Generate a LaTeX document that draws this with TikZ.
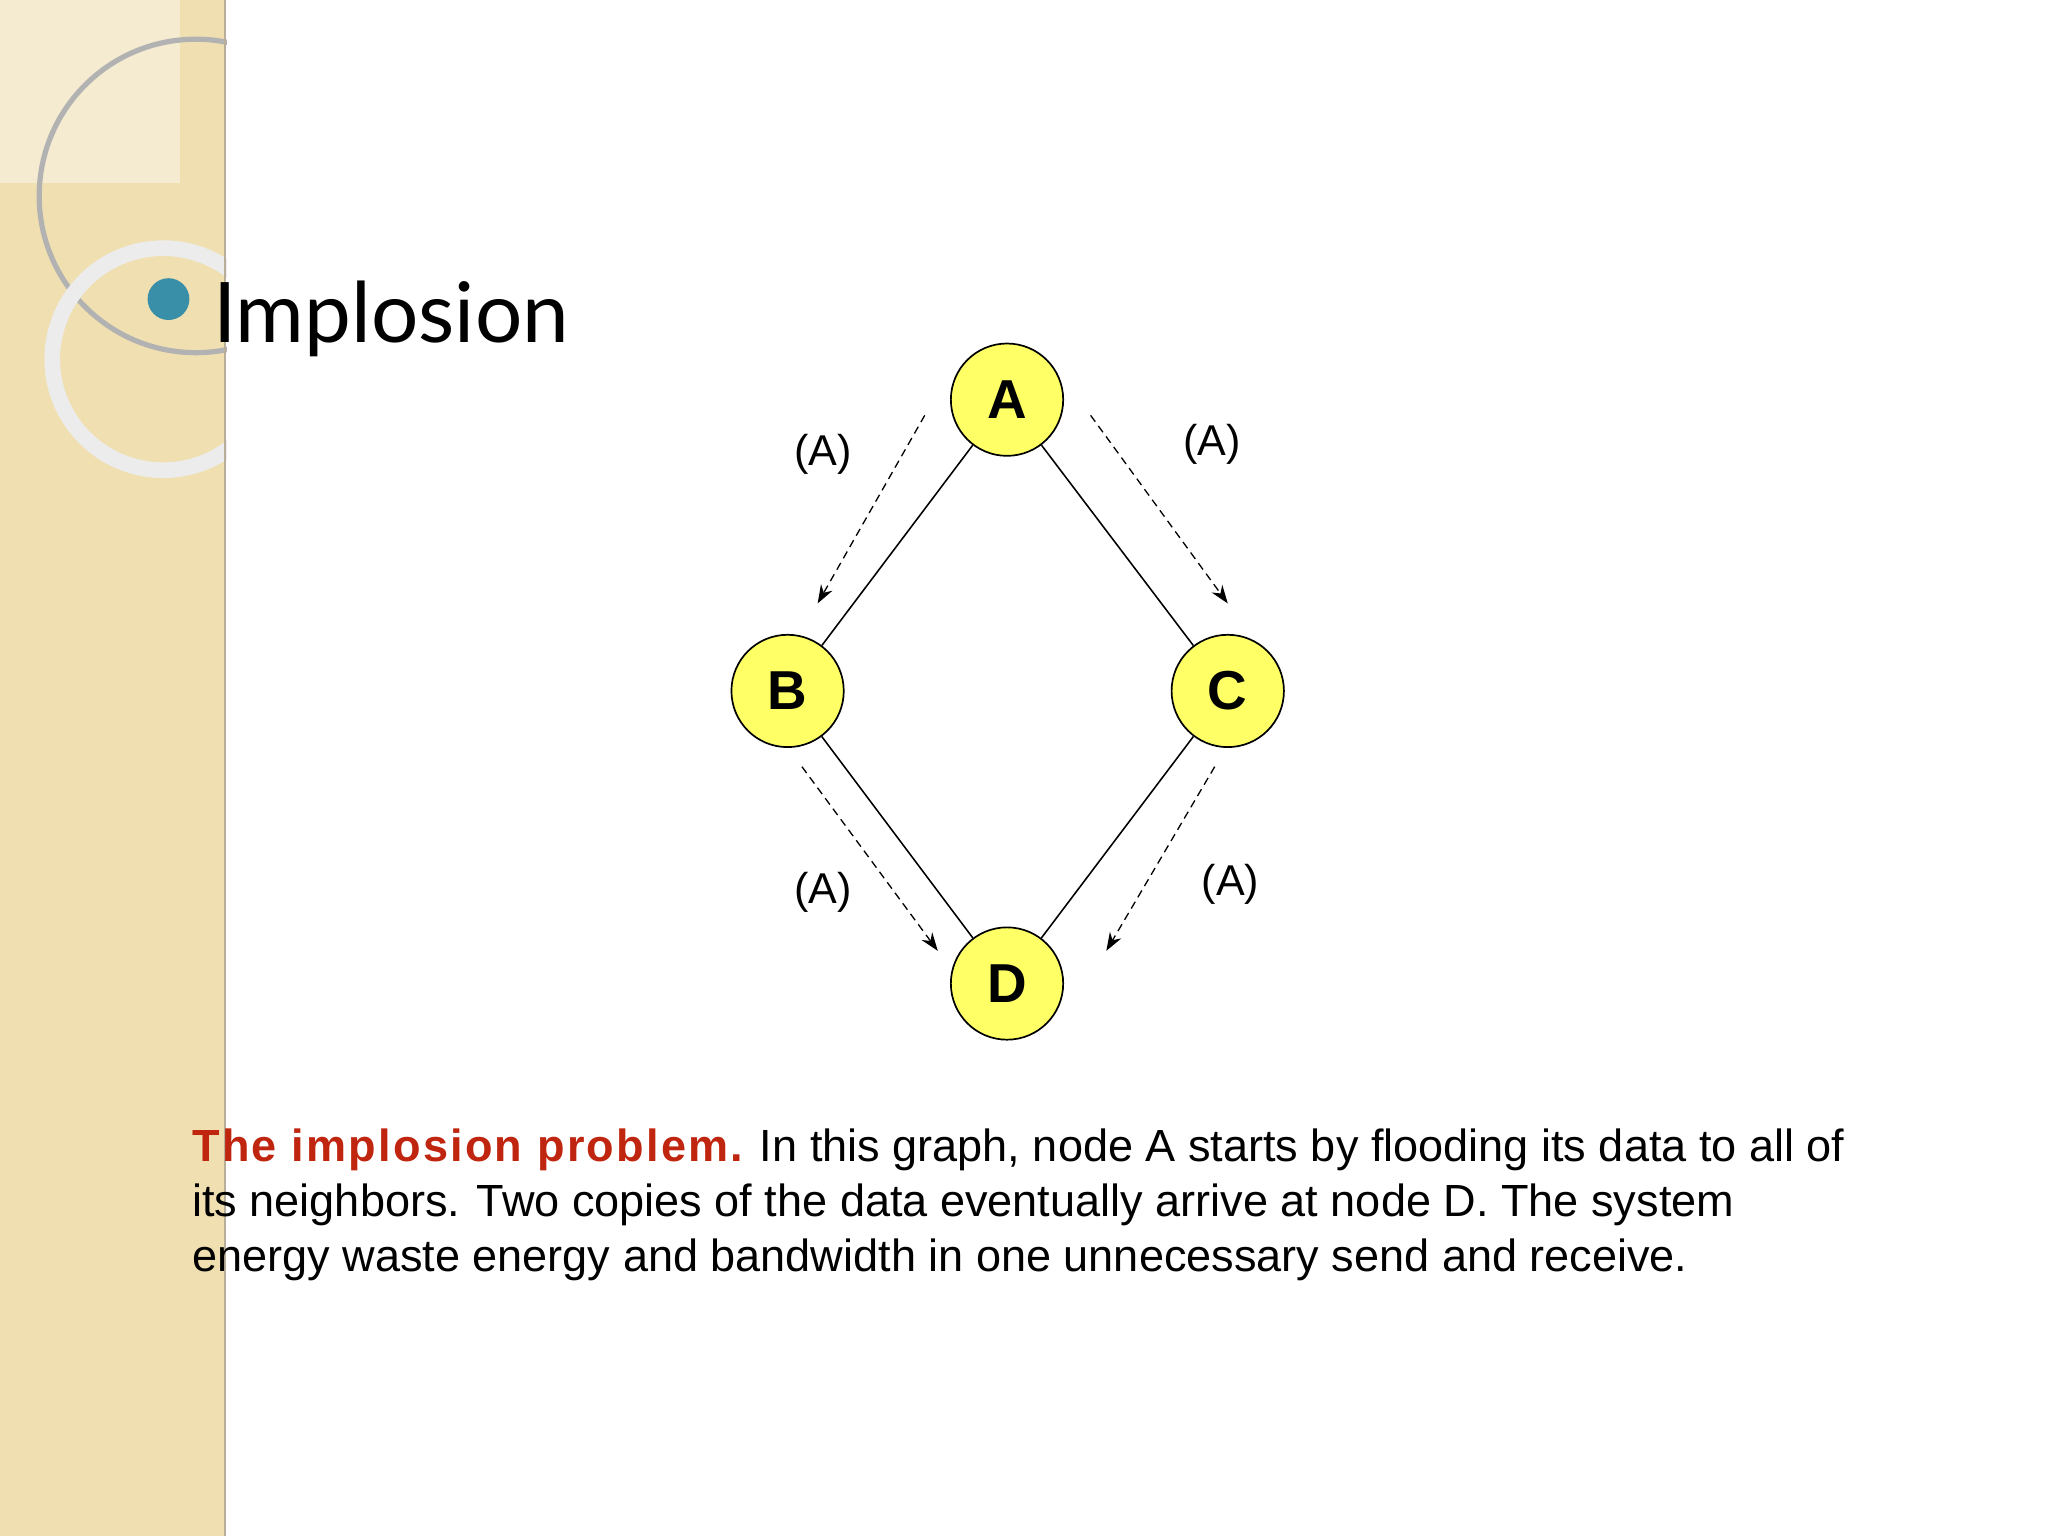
\documentclass[tikz,border=0pt]{standalone}
\usepackage{fontspec}
\setmainfont{Liberation Sans}
\newfontfamily\titlefont{Lato}
\usetikzlibrary{arrows.meta}
\definecolor{tan}{HTML}{F0DFB0}
\definecolor{tanlight}{HTML}{F5EBD0}
\definecolor{teal}{HTML}{3A8FA8}
\definecolor{nodey}{HTML}{FFFF66}
\definecolor{redt}{HTML}{C0260F}
\tikzset{
  gn/.style={circle,draw=black,line width=1.3pt,fill=nodey,minimum size=86pt,inner sep=0pt,font=\fontsize{42}{46}\selectfont\bfseries},
  edge/.style={draw=black,line width=1.2pt},
  flow/.style={draw=black,line width=1pt,dash pattern=on 6pt off 4pt,-{Stealth[length=14pt,width=10pt]}},
  lab/.style={font=\fontsize{33}{36}\selectfont}
}
\begin{document}
\begin{tikzpicture}[x=1pt,y=-1pt]
\useasboundingbox (0,0) rectangle (1568,1176);
\fill[white] (0,0) rectangle (1568,1176);
\fill[tan] (0,0) rectangle (172,1176);
\fill[tanlight] (0,0) rectangle (138,140);
\draw[gray!60,line width=4pt] (150,150) circle (120);
\draw[white!85!gray,line width=12pt] (125,275) circle (85);
\draw[gray!50!tan,line width=1.5pt] (172,0) -- (172,1176);
\fill[white] (174,0) rectangle (1568,1176);
\fill[teal] (129,229) circle (16);
\node[anchor=base west,inner sep=0pt,font=\titlefont\fontsize{64}{70}\selectfont] (title) at (163,262) {Implosion};
\node[gn] (A) at (771,306) {A};
\node[gn] (B) at (603,529) {B};
\node[gn] (C) at (940,529) {C};
\node[gn] (D) at (771,753) {D};
\draw[edge] (A) -- (B);
\draw[edge] (A) -- (C);
\draw[edge] (B) -- (D);
\draw[edge] (C) -- (D);
\coordinate (f1s) at (708,318); \coordinate (f1e) at (626,462);
\coordinate (f2s) at (835,318); \coordinate (f2e) at (940,462);
\coordinate (f3s) at (614,587); \coordinate (f3e) at (718,728);
\coordinate (f4s) at (930,587); \coordinate (f4e) at (847,728);
\draw[flow] (f1s) -- (f1e);
\draw[flow] (f2s) -- (f2e);
\draw[flow] (f3s) -- (f3e);
\draw[flow] (f4s) -- (f4e);
\node[lab] (l1) at (630,348) {(A)};
\node[lab] (l2) at (928,340) {(A)};
\node[lab] (l3) at (630,683) {(A)};
\node[lab] (l4) at (942,677) {(A)};
\node[anchor=north west,inner sep=0pt,align=left,font=\fontsize{34.5}{42}\selectfont] (cap) at (147,864)
{{\color{redt}\bfseries\addfontfeature{LetterSpace=5}The implosion problem.} In this graph, node A starts by flooding its data to all of\\
its neighbors. Two copies of the data eventually arrive at node D. The system\\
energy waste energy and bandwidth in one unnecessary send and receive.};
\end{tikzpicture}
\end{document}
